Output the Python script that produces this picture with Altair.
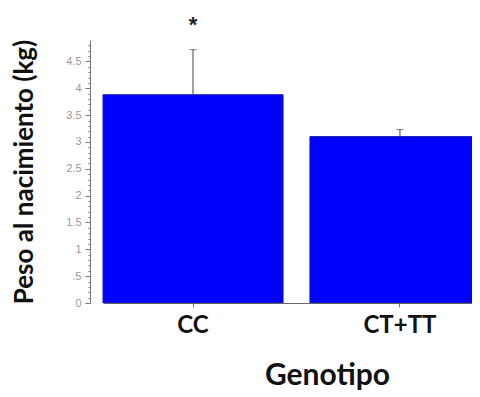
import altair as alt
import pandas as pd

genotipos = ["CC", "CT+TT"]
medias = [3.88, 3.10]
errores = [0.84, 0.13]
marcas = ["*", ""]

df = pd.DataFrame({
    "Genotipo": genotipos,
    "media": medias,
    "sup": [m + e for m, e in zip(medias, errores)],
    "marca": marcas,
})

minor_ticks = [round(i * 0.1, 1) for i in range(0, 49)]
is_major = "abs(datum.value*2 - round(datum.value*2)) < 0.001"

y_scale = alt.Scale(domain=[0, 4.9], nice=False, zero=True)
x_scale = alt.Scale(range=[13, 400], paddingInner=0.13, paddingOuter=0)

x_axis = alt.Axis(
    title="Genotipo", titleFont="Lato", titleFontSize=30, titleFontWeight="bold",
    titleColor="#111", titleX=237, titleY=81, titleBaseline="alphabetic",
    labelFont="Lato", labelFontSize=24, labelFontWeight="bold", labelColor="#111",
    labelAngle=0, labelPadding=6, tickSize=4, tickColor="#777",
    domainColor="#666", domainWidth=1,
)
y_axis = alt.Axis(
    title="Peso al nacimiento (kg)", titleFont="Lato", titleFontSize=26,
    titleFontWeight="bold", titleColor="#111", titlePadding=28,
    values=minor_ticks, grid=False,
    labelExpr=f"{is_major} ? (datum.value == 0.5 ? '.5' : datum.label) : ''",
    format="~g", labelFont="Liberation Sans", labelFontSize=11,
    labelColor="#999", labelPadding=4, labelBound=False, labelOverlap=False,
    labelFlush=False,
    tickSize={"condition": {"test": is_major, "value": 5}, "value": 2},
    tickColor="#777", domainColor="#777",
)

def xe():
    return alt.X("Genotipo:N", scale=x_scale, sort=genotipos, axis=x_axis)

def ye(field):
    return alt.Y(field, scale=y_scale, axis=y_axis)

bars = alt.Chart(df).mark_bar(
    color="#0000fe", stroke="#1c1ca8", strokeWidth=1, clip=True
).encode(x=xe(), y=ye("media:Q"))

rules = alt.Chart(df).mark_rule(color="#444", strokeWidth=1).encode(
    x=xe(), y=ye("media:Q"), y2="sup:Q",
)

caps = alt.Chart(df).mark_tick(color="#444", thickness=1, size=7, orient="horizontal").encode(
    x=xe(), y=ye("sup:Q"),
)

star = alt.Chart(df).mark_text(
    fontSize=22, fontWeight="bold", color="#222", dy=-25, font="Liberation Sans"
).encode(
    x=xe(), y=ye("sup:Q"), text="marca:N",
)

chart = alt.layer(bars, rules, caps, star).properties(
    width=382, height=263,
    background="white",
    autosize=alt.AutoSizeParams(type="none"),
    padding={"left": 82, "top": 32, "right": 0, "bottom": 89},
).configure_view(strokeWidth=0)

chart.save("out.html", embed_options={"renderer": "svg", "actions": False})
